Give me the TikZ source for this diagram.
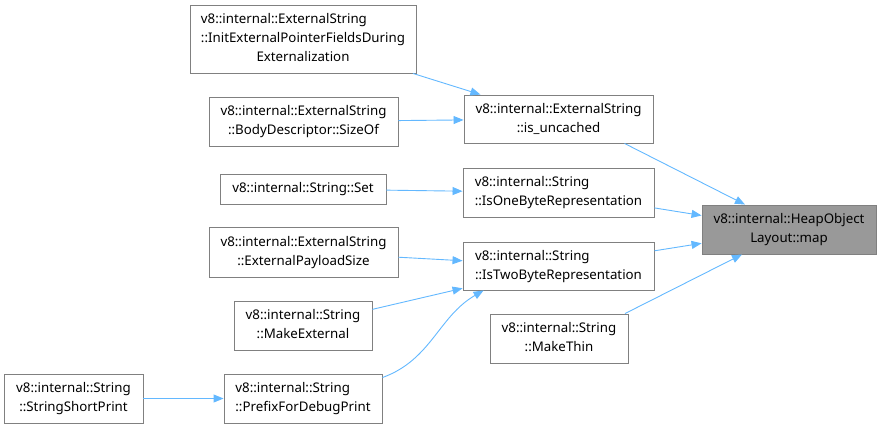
\documentclass[tikz,border=0pt]{standalone}
\usepackage{fontspec}
\setmainfont{Noto Sans}
\usetikzlibrary{arrows.meta}
\definecolor{edgeblue}{HTML}{63B8FF}
\definecolor{boxgrey}{HTML}{808080}
\definecolor{focusgrey}{HTML}{999999}
% first lines flush left, last line centred
\newcommand{\funclabel}[2]{\begin{tabular}{@{}l@{}}#1\\\multicolumn{1}{@{}c@{}}{#2}\end{tabular}}
\begin{document}
\begin{tikzpicture}[
        x=1pt, y=-1pt,
        func_box/.style={draw=boxgrey, line width=0.9pt, fill=white, align=center, inner sep=1pt,
            font=\fontsize{13.3}{19}\selectfont},
        focus_box/.style={func_box, fill=focusgrey},
        call_edge/.style={->, draw=edgeblue, line width=0.9pt},
        >={Triangle[length=10pt,width=8pt]}
    ]
        \useasboundingbox (0,0) rectangle (881,429);

        % Nodes
        \node[focus_box, minimum width=174pt, minimum height=49pt] (heap) at (789,229.5) {\funclabel{v8::internal::HeapObject}{Layout::map}};

        \node[func_box, minimum width=189pt, minimum height=48pt] (uncached) at (558.5,119) {\funclabel{v8::internal::ExternalString}{::is\_uncached}};
        \node[func_box, minimum width=191pt, minimum height=49pt] (onebyte) at (558.5,192.5) {\funclabel{v8::internal::String}{::IsOneByteRepresentation}};
        \node[func_box, minimum width=191pt, minimum height=48pt] (twobyte) at (558.5,266) {\funclabel{v8::internal::String}{::IsTwoByteRepresentation}};
        \node[func_box, minimum width=138pt, minimum height=49pt] (makethin) at (559,338.5) {\funclabel{v8::internal::String}{::MakeThin}};

        \node[func_box, minimum width=226pt, minimum height=68pt] (init) at (303,39) {\funclabel{v8::internal::ExternalString\\::InitExternalPointerFieldsDuring}{Externalization}};
        \node[func_box, minimum width=189pt, minimum height=49pt] (bodysize) at (303.5,121.5) {\funclabel{v8::internal::ExternalString}{::BodyDescriptor::SizeOf}};
        \node[func_box, minimum width=166pt, minimum height=30pt] (strset) at (303,189) {v8::internal::String::Set};
        \node[func_box, minimum width=189pt, minimum height=50pt] (payload) at (303.5,252) {\funclabel{v8::internal::ExternalString}{::ExternalPayloadSize}};
        \node[func_box, minimum width=138pt, minimum height=49pt] (makeext) at (303,325.5) {\funclabel{v8::internal::String}{::MakeExternal}};
        \node[func_box, minimum width=158pt, minimum height=49pt] (prefix) at (303,398.5) {\funclabel{v8::internal::String}{::PrefixForDebugPrint}};

        \node[func_box, minimum width=139pt, minimum height=49pt] (shortprint) at (73.5,398.5) {\funclabel{v8::internal::String}{::StringShortPrint}};

        % Calls into HeapObjectLayout::map
        \draw[call_edge] ([xshift=66pt]uncached.south) -- ([xshift=-44pt]heap.north);
        \draw[call_edge] (onebyte) -- (heap);
        \draw[call_edge] (twobyte) -- (heap);
        \draw[call_edge] ([xshift=66pt]makethin.north) -- ([xshift=-47pt]heap.south);

        % Calls into the second column
        \draw[call_edge] (init) -- (uncached);
        \draw[call_edge] (bodysize) -- (uncached);
        \draw[call_edge] (strset) -- (onebyte);
        \draw[call_edge] (payload) -- (twobyte);
        \draw[call_edge] (makeext) -- (twobyte);
        \draw[call_edge] ([yshift=-4pt]prefix.north east) to[out=20, in=210] ([xshift=21pt]twobyte.south west);
        \draw[call_edge] (shortprint) -- (prefix);
    \end{tikzpicture}
\end{document}
